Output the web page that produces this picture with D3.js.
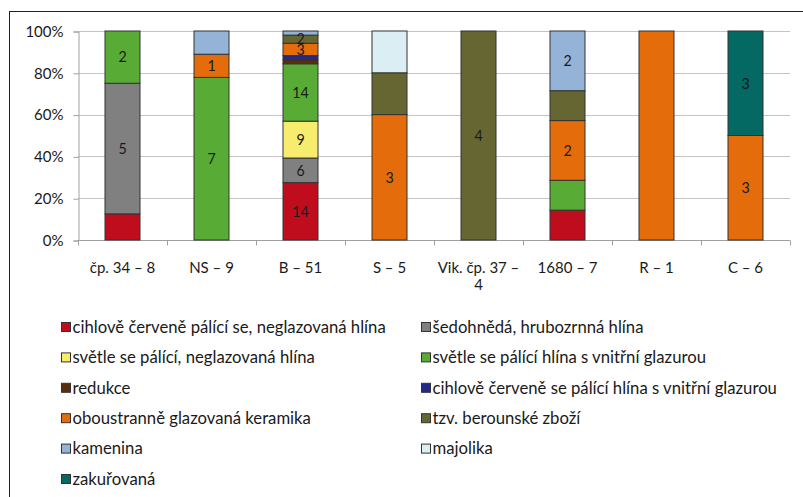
<!DOCTYPE html>
<html><head><meta charset="utf-8">
<script src="https://cdn.jsdelivr.net/npm/d3@7"></script>
<style>
html,body{margin:0;padding:0;background:#fff;}
svg{display:block;}
text{font-family:"Lato",sans-serif;fill:#1a1a1a;}
</style></head><body>
<svg id="chart" width="803" height="497"></svg>
<script>
const categories = ["čp. 34 – 8","NS – 9","B – 51","S – 5","Vik. čp. 37 – 4","1680 – 7","R – 1","C – 6"];
const seriesNames = [
  "cihlově červeně pálící se, neglazovaná hlína",
  "šedohnědá, hrubozrnná hlína",
  "světle se pálící, neglazovaná hlína",
  "světle se pálící hlína s vnitřní glazurou",
  "redukce",
  "cihlově červeně se pálící hlína s vnitřní glazurou",
  "oboustranně glazovaná keramika",
  "tzv. berounské zboží",
  "kamenina",
  "majolika",
  "zakuřovaná"
];
const seriesColors = ["#c00d1e","#808080","#f8ec6e","#58ac35","#5a2d0c","#1f2a8a","#e46c0a","#666633","#95b3d7","#dbeef4","#046863"];
// counts per series, in category order
const cihloveNeglaz   = [1,0,14,0,0,1,0,0];
const sedohneda       = [5,0,6,0,0,0,0,0];
const svetleNeglaz    = [0,0,9,0,0,0,0,0];
const svetleGlaz      = [2,7,14,0,0,1,0,0];
const redukce         = [0,0,1,0,0,0,0,0];
const cihloveGlaz     = [0,0,1,0,0,0,0,0];
const oboustranne     = [0,1,3,3,0,2,1,3];
const berounske       = [0,0,2,1,4,1,0,0];
const kamenina        = [0,1,1,0,0,2,0,0];
const majolika        = [0,0,0,1,0,0,0,0];
const zakurovana      = [0,0,0,0,0,0,0,3];
const seriesValues = [cihloveNeglaz,sedohneda,svetleNeglaz,svetleGlaz,redukce,cihloveGlaz,oboustranne,berounske,kamenina,majolika,zakurovana];
const yTicks = [0,0.2,0.4,0.6,0.8,1];
// value labels: shown when count >= 2, plus these single cells
const extraLabels = [["NS – 9","oboustranně glazovaná keramika"]];

const svg = d3.select("#chart");
function squeezedText(parent, tx, ty, str, size, anchor, k, cls){
  const g = parent.append("g").attr("transform",`translate(${tx},${ty}) scale(${k},1)`);
  return g.append("text").attr("class",cls||null).attr("x",0).attr("y",0).attr("dy","0.35em")
    .attr("text-anchor",anchor).attr("font-size",size).text(str);
}
// frame
svg.append("line").attr("x1",10).attr("x2",803).attr("y1",11.5).attr("y2",11.5).attr("stroke","#222").attr("stroke-width",1);
svg.append("line").attr("x1",9.5).attr("x2",9.5).attr("y1",11).attr("y2",497).attr("stroke","#222").attr("stroke-width",1);

const x = d3.scaleBand().domain(categories).range([78,790]).paddingInner(0).paddingOuter(0);
const y = d3.scaleLinear().domain([0,1]).range([240,31]);
const barW = 35;

// grid
svg.append("g").selectAll("line").data(yTicks.slice(1)).join("line")
  .attr("x1",78).attr("x2",790).attr("y1",d=>Math.round(y(d))+0.5).attr("y2",d=>Math.round(y(d))+0.5)
  .attr("stroke","#c4c4c4").attr("stroke-width",1);

// y axis
const yAxis = svg.append("g").attr("transform","translate(78.5,0.5)")
  .call(d3.axisLeft(y).tickValues(yTicks).tickFormat(d3.format(".0%")).tickSize(5).tickPadding(10));
yAxis.selectAll("path,line").attr("stroke","#a0a0a0");
yAxis.selectAll("text").attr("font-size",15).attr("font-family",null).style("fill","#1a1a1a");

// x axis
const xAxisG = svg.append("g").attr("transform","translate(0,240.5)");
xAxisG.append("line").attr("x1",78).attr("x2",790).attr("stroke","#a0a0a0");
const tickXs = categories.map(c=>x(c)).concat([790]);
xAxisG.selectAll("line.t").data(tickXs).join("line").attr("class","t")
  .attr("x1",d=>Math.round(d)+0.5).attr("x2",d=>Math.round(d)+0.5).attr("y1",0).attr("y2",5).attr("stroke","#a0a0a0");
categories.forEach(c=>{
  const cx = x(c)+x.bandwidth()/2;
  let lines = [c];
  if (c.startsWith("Vik.")) lines = ["Vik. čp. 37 –","4"];
  lines.forEach((l,i)=>{
    squeezedText(xAxisG, cx, 27+i*17, l, 15, "middle", 1, "xl");
  });
});

// stacked data
const stackData = categories.map((c,i)=>{
  const row = {cat:c};
  const total = d3.sum(seriesValues, s=>s[i]);
  seriesNames.forEach((n,j)=>{ row[n] = seriesValues[j][i]/total; row[n+"#n"] = seriesValues[j][i]; });
  return row;
});
const stack = d3.stack().keys(seriesNames)(stackData);

const gBars = svg.append("g");
stack.forEach((layer,j)=>{
  layer.forEach(seg=>{
    const n = seg.data[seriesNames[j]+"#n"];
    if (n===0) return;
    const cx = x(seg.data.cat)+x.bandwidth()/2;
    const y0 = y(seg[0]), y1 = y(seg[1]);
    gBars.append("rect").attr("x",cx-barW/2).attr("y",y1).attr("width",barW).attr("height",y0-y1)
      .attr("fill",seriesColors[j]).attr("stroke","#333").attr("stroke-width",1);
  });
});
stack.forEach((layer,j)=>{
  layer.forEach(seg=>{
    const n = seg.data[seriesNames[j]+"#n"];
    const show = n>=2 || extraLabels.some(e=>e[0]===seg.data.cat && e[1]===seriesNames[j]);
    if (!show) return;
    const cx = x(seg.data.cat)+x.bandwidth()/2;
    squeezedText(gBars, cx, (y(seg[0])+y(seg[1]))/2, n, 15, "middle", 0.95, "bl");
  });
});

// legend
const leg = svg.append("g");
seriesNames.forEach((n,j)=>{
  const col = j%2, row = Math.floor(j/2);
  const lx = col===0 ? 61 : 421;
  const ly = 327 + row*30.4;
  leg.append("rect").attr("x",lx+0.5).attr("y",ly-4.5).attr("width",9).attr("height",9)
    .attr("fill",seriesColors[j]).attr("stroke","#333").attr("stroke-width",1);
  squeezedText(leg, lx+11.5, ly, n, 16.7, "start", 1, "lg");
});
</script>
</body></html>
